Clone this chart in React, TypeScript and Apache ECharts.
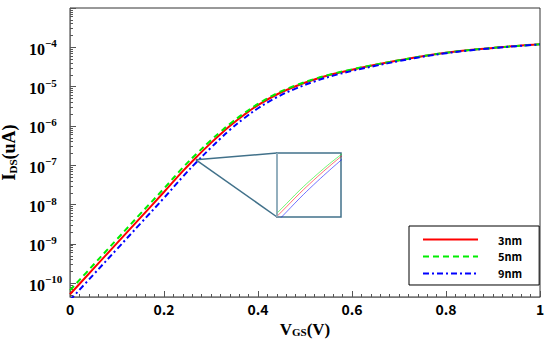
import React, { useEffect, useRef } from "react";
import * as echarts from "echarts";

// Gate voltage (V)
const vgs = [0, 0.05, 0.1, 0.15, 0.2, 0.24, 0.27, 0.3, 0.32, 0.34, 0.37, 0.4, 0.44, 0.48, 0.52, 0.56, 0.6, 0.65, 0.7, 0.75, 0.8, 0.85, 0.9, 0.95, 1.0];
// log10 of I_DS (uA)
const logI3nm = [-10.28, -9.63, -8.98, -8.33, -7.68, -7.15, -6.78, -6.43, -6.21, -6.0, -5.72, -5.47, -5.2, -4.99, -4.82, -4.68, -4.57, -4.445, -4.33, -4.225, -4.14, -4.07, -4.015, -3.965, -3.925];
const logI5nm = [-10.18, -9.53, -8.88, -8.23, -7.59, -7.06, -6.7, -6.36, -6.15, -5.95, -5.68, -5.44, -5.17, -4.97, -4.805, -4.67, -4.56, -4.44, -4.33, -4.225, -4.14, -4.07, -4.015, -3.965, -3.925];
const logI9nm = [-10.43, -9.78, -9.13, -8.48, -7.83, -7.29, -6.91, -6.55, -6.32, -6.1, -5.81, -5.55, -5.27, -5.05, -4.87, -4.72, -4.6, -4.47, -4.35, -4.24, -4.15, -4.08, -4.02, -3.97, -3.925];

const seriesNames = ["3nm", "5nm", "9nm"];
const seriesColors = ["#ff0000", "#00ee00", "#0000ff"];
const yLabelExponents = [-10, -9, -8, -7, -6, -5, -4];
const yMajorExponents = [-10, -9, -8, -7, -6, -5, -4, -3];
const yRange = [-10.35, -3];
const insetXRange = [0.19, 0.33];
const insetYRange = [-7.83, -6.0];
const insetSource = [0.268, -6.86];

const pairs = (ys: number[]) => vgs.map((v, i) => [v, ys[i]]);

const minorTicks: number[] = [];
for (let n = -11; n <= -4; n++) {
  for (let k = 2; k <= 9; k++) {
    const t = n + Math.log10(k);
    if (t > yRange[0] && t < yRange[1]) minorTicks.push(t);
  }
}

const serif = "Liberation Serif";
const sans = "Noto Sans CJK KR";
const insetColor = "#41718a";

export default function App() {
  const ref = useRef<HTMLDivElement>(null);
  useEffect(() => {
    if (!ref.current) return;
    const chart = echarts.init(ref.current, undefined, { renderer: "svg" });
    const data = [logI3nm, logI5nm, logI9nm];
    const lineTypes: any[] = ["solid", [6, 4], [6, 3, 2, 3]];
    chart.setOption({
      animation: false,
      backgroundColor: "#fff",
      grid: [
        { left: 70, right: 10, top: 8, bottom: 44, show: true, borderColor: "#333", borderWidth: 1, outerBoundsMode: "none", containLabel: false },
        { left: 277, top: 153, width: 64, height: 64, show: true, borderColor: insetColor, borderWidth: 1.5, backgroundColor: "#fff", outerBoundsMode: "none", containLabel: false },
      ],
      legend: {
        data: seriesNames,
        orient: "vertical",
        left: 409,
        top: 226,
        padding: [8, 17, 6, 13],
        itemWidth: 55,
        itemHeight: 12,
        itemGap: 6,
        borderColor: "#000",
        borderWidth: 1,
        backgroundColor: "#fff",
        itemStyle: { opacity: 0 },
        textStyle: { fontFamily: sans, fontWeight: "bold", fontSize: 11, color: "#000", padding: [0, 0, 0, 15] },
      },
      xAxis: [
        {
          type: "value",
          gridIndex: 0,
          min: 0,
          max: 1,
          interval: 0.2,
          axisLine: { show: true, lineStyle: { color: "#777", width: 1 } },
          axisTick: { show: true, inside: true, length: 6, lineStyle: { color: "#555" } },
          minorTick: { show: true, splitNumber: 10, length: 3, lineStyle: { color: "#555" } },
          splitLine: { show: false },
          axisLabel: { fontFamily: sans, fontWeight: "bold", fontSize: 14, color: "#000", margin: 5 },
          name: "{m|V}{s|GS}{m|(V)}",
          nameLocation: "middle",
          nameGap: 21,
          nameTextStyle: {
            rich: {
              m: { fontFamily: serif, fontWeight: "bold", fontSize: 17, color: "#000" },
              s: { fontFamily: serif, fontWeight: "bold", fontSize: 11, color: "#000", padding: [6, 0, 0, 0] },
            },
          },
        },
        { type: "value", gridIndex: 1, min: insetXRange[0], max: insetXRange[1], show: false },
      ],
      yAxis: [
        {
          type: "value",
          gridIndex: 0,
          min: yRange[0],
          max: yRange[1],
          position: "left",
          axisLine: { show: true, lineStyle: { color: "#777", width: 1 } },
          axisTick: { show: true, inside: true, length: 6, customValues: yMajorExponents, lineStyle: { color: "#555" } },
          splitLine: { show: false },
          axisLabel: {
            customValues: yLabelExponents,
            align: "left",
            margin: 41,
            formatter: (v: number) => {
              const e = Math.round(v);
              return `{b|10}{s|${e < 0 ? "\u2212" : ""}${Math.abs(e)}}`;
            },
            rich: {
              b: { fontFamily: serif, fontWeight: "bold", fontSize: 16, color: "#000", padding: [4, 0, 0, 0] },
              s: { fontFamily: serif, fontWeight: "bold", fontSize: 11, color: "#000", padding: [0, 0, 8, 0] },
            },
          },
          name: "{m|I}{s|DS}{m|(uA)}",
          nameLocation: "middle",
          nameRotate: 90,
          nameGap: 41,
          nameTextStyle: {
            rich: {
              m: { fontFamily: serif, fontWeight: "bold", fontSize: 18, color: "#000" },
              s: { fontFamily: serif, fontWeight: "bold", fontSize: 11, color: "#000", padding: [7, 0, 0, 0] },
            },
          },
        },
        {
          type: "value",
          gridIndex: 0,
          min: yRange[0],
          max: yRange[1],
          position: "left",
          axisLine: { show: false },
          axisTick: { show: true, inside: true, length: 3, customValues: minorTicks, lineStyle: { color: "#555" } },
          axisLabel: { show: false },
          splitLine: { show: false },
        },
        { type: "value", gridIndex: 1, min: insetYRange[0], max: insetYRange[1], show: false },
      ],
      series: [
        ...seriesNames.map((name, i) => ({
          name,
          type: "line",
          xAxisIndex: 0,
          yAxisIndex: 0,
          data: pairs(data[i]),
          symbol: "none",
          smooth: 0.4,
          clip: true,
          lineStyle: { color: seriesColors[i], width: 2, type: lineTypes[i] },
          itemStyle: { color: seriesColors[i] },
          z: 2 + i,
        })),
        ...seriesNames.map((name, i) => ({
          name: name + " inset",
          type: "line",
          xAxisIndex: 1,
          yAxisIndex: 2,
          data: pairs(data[i]),
          symbol: "none",
          smooth: 0.4,
          clip: true,
          lineStyle: { color: seriesColors[i], width: 1, opacity: 0.55 },
          z: 5,
        })),
      ],
    });
    const p = chart.convertToPixel({ gridIndex: 0 }, insetSource) as number[];
    const tl = chart.convertToPixel({ gridIndex: 1 }, [insetXRange[0], insetYRange[1]]) as number[];
    const bl = chart.convertToPixel({ gridIndex: 1 }, [insetXRange[0], insetYRange[0]]) as number[];
    chart.setOption({
      graphic: [
        { type: "line", shape: { x1: p[0], y1: p[1], x2: tl[0], y2: tl[1] }, style: { stroke: insetColor, lineWidth: 1.5 }, z: 10 },
        { type: "line", shape: { x1: p[0], y1: p[1], x2: bl[0], y2: bl[1] }, style: { stroke: insetColor, lineWidth: 1.5 }, z: 10 },
        { type: "line", shape: { x1: tl[0], y1: tl[1], x2: bl[0], y2: bl[1] }, style: { stroke: "#9fb9c6", lineWidth: 1.5 }, z: 10 },
      ],
    });
    return () => chart.dispose();
  }, []);
  return <div ref={ref} style={{ position: "fixed", left: 0, top: 0, width: 550, height: 341 }} />;
}
